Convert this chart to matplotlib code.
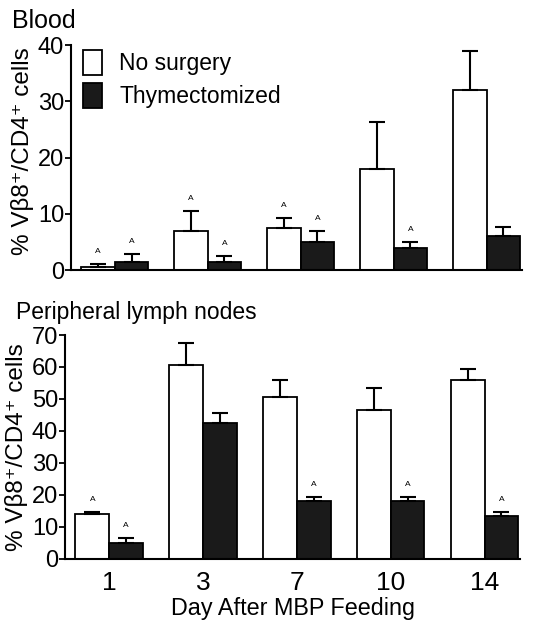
import numpy as np
import matplotlib.pyplot as plt
from matplotlib.patches import Patch

plt.rcParams['font.family'] = ['Liberation Sans', 'DejaVu Sans']

days = ['1', '3', '7', '10', '14']

# Blood
blood_nosurg = [0.5, 7.0, 7.5, 18.0, 32.0]
blood_nosurg_err = [0.5, 3.5, 1.8, 8.3, 7.0]
blood_thym = [1.5, 1.5, 5.0, 4.0, 6.0]
blood_thym_err = [1.3, 1.0, 2.0, 1.0, 1.7]
blood_sig_nosurg = [True, True, True, False, False]
blood_sig_thym = [True, True, True, True, False]

# Peripheral lymph nodes
pln_nosurg = [14.0, 60.5, 50.5, 46.5, 56.0]
pln_nosurg_err = [0.7, 7.0, 5.5, 7.0, 3.5]
pln_thym = [5.0, 42.5, 18.0, 18.0, 13.5]
pln_thym_err = [1.5, 3.0, 1.3, 1.3, 1.2]
pln_sig_nosurg = [True, False, False, False, False]
pln_sig_thym = [True, False, True, True, True]

ylabel = '% V\u03b28\u207a/CD4\u207a cells'
x = np.arange(len(days))
w = 0.36


def draw(ax, a, a_err, b, b_err, sig_a, sig_b, ymax, step):
    ax.bar(x - w / 2, a, w, color='white', edgecolor='black', linewidth=1.3)
    ax.bar(x + w / 2, b, w, color='#1a1a1a', edgecolor='black', linewidth=1.3)
    ax.errorbar(x - w / 2, a, yerr=[np.zeros(len(a)), a_err], fmt='none',
                ecolor='black', elinewidth=1.5, capsize=6, capthick=1.5)
    ax.errorbar(x + w / 2, b, yerr=[np.zeros(len(b)), b_err], fmt='none',
                ecolor='black', elinewidth=1.5, capsize=6, capthick=1.5)
    off = ymax * 0.04
    for i in range(len(x)):
        if sig_a[i]:
            ax.text(x[i] - w / 2, a[i] + a_err[i] + off, 'A', ha='center',
                    va='bottom', fontsize=6)
        if sig_b[i]:
            ax.text(x[i] + w / 2, b[i] + b_err[i] + off, 'A', ha='center',
                    va='bottom', fontsize=6)
    ax.set_ylim(0, ymax)
    ax.set_yticks(np.arange(0, ymax + 1, step))
    ax.set_xlim(-0.47, 4.38)
    ax.spines['top'].set_visible(False)
    ax.spines['right'].set_visible(False)
    ax.spines['left'].set_linewidth(1.5)
    ax.spines['bottom'].set_linewidth(1.5)
    ax.tick_params(axis='y', direction='out', length=4, width=1.3, labelsize=17, pad=1)
    ax.tick_params(axis='x', length=0, labelsize=19, pad=9)


fig = plt.figure(figsize=(5.47, 6.25), dpi=100)

ax1 = fig.add_axes([0.13, 0.568, 0.824, 0.36])
draw(ax1, blood_nosurg, blood_nosurg_err, blood_thym, blood_thym_err,
     blood_sig_nosurg, blood_sig_thym, 40, 10)
ax1.set_xticks([])
ax1.set_ylabel(ylabel, fontsize=17.5, labelpad=3, y=0.53)
handles = [Patch(facecolor='white', edgecolor='black', linewidth=1.3),
           Patch(facecolor='#1a1a1a', edgecolor='black', linewidth=1.3)]
ax1.legend(handles, ['No surgery', 'Thymectomized'], loc='upper left',
           bbox_to_anchor=(-0.02, 1.07), frameon=False, fontsize=16.5,
           handlelength=0.85, handleheight=1.3, handletextpad=0.75,
           labelspacing=0.35)
fig.text(0.022, 0.967, 'Blood', fontsize=18, va='center')

ax2 = fig.add_axes([0.119, 0.106, 0.832, 0.358])
draw(ax2, pln_nosurg, pln_nosurg_err, pln_thym, pln_thym_err,
     pln_sig_nosurg, pln_sig_thym, 70, 10)
ax2.set_xticks(x)
ax2.set_xticklabels(days)
ax2.set_ylabel(ylabel, fontsize=17.5, labelpad=3)
ax2.set_xlabel('Day After MBP Feeding', fontsize=16.8, labelpad=1)
fig.text(0.03, 0.5, 'Peripheral lymph nodes', fontsize=16.5, va='center')

fig.savefig('out.png', dpi=100)
